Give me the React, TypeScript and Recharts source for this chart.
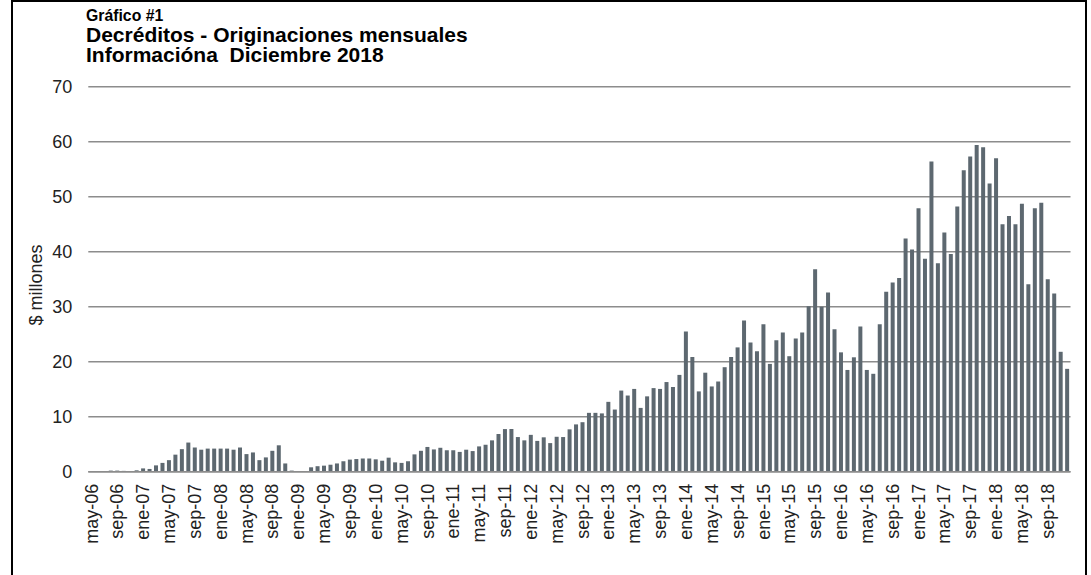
import React from 'react';
import { BarChart, Bar, XAxis, YAxis, CartesianGrid } from 'recharts';

const MONTHS = ['ene', 'feb', 'mar', 'abr', 'may', 'jun', 'jul', 'ago', 'sep', 'oct', 'nov', 'dic'];
const YEARS = ['06', '07', '08', '09', '10', '11', '12', '13', '14', '15', '16', '17', '18'];

// $ millones, one array per year (2006 starts in May)
const V2006 = [0, 0, 0, 0.2, 0.2, 0.15, 0, 0.25];
const V2007 = [0.6, 0.5, 1.15, 1.6, 2.1, 3.1, 4.1, 5.3, 4.4, 4.0, 4.2, 4.2];
const V2008 = [4.2, 4.2, 4.0, 4.4, 3.2, 3.5, 2.1, 2.6, 3.8, 4.8, 1.5, 0.2];
const V2009 = [0, 0, 0.8, 1.0, 1.1, 1.27, 1.5, 1.9, 2.2, 2.3, 2.4, 2.4];
const V2010 = [2.25, 2.0, 2.55, 1.7, 1.6, 1.9, 3.15, 3.8, 4.5, 4.05, 4.35, 3.9];
const V2011 = [3.9, 3.6, 4.0, 3.75, 4.6, 4.9, 5.7, 6.85, 7.75, 7.75, 6.3, 5.7];
const V2012 = [6.7, 5.6, 6.25, 5.2, 6.35, 6.3, 7.7, 8.6, 9.0, 10.7, 10.7, 10.6];
const V2013 = [12.7, 11.3, 14.75, 13.85, 15.05, 11.6, 13.7, 15.2, 15.05, 16.3, 15.4, 17.6];
const V2014 = [25.5, 20.85, 14.6, 18.0, 15.5, 16.4, 19.0, 20.85, 22.6, 27.5, 23.5, 21.9];
const V2015 = [26.8, 19.6, 23.9, 25.3, 21.0, 24.2, 25.3, 30.1, 36.8, 30.0, 32.6, 25.9];
const V2016 = [21.7, 18.5, 20.8, 26.4, 18.5, 17.8, 26.8, 32.7, 34.4, 35.2, 42.4, 40.4];
const V2017 = [47.9, 38.7, 56.4, 37.9, 43.5, 39.6, 48.2, 54.8, 57.3, 59.4, 59.0, 52.4];
const V2018 = [57.0, 45.0, 46.5, 45.0, 48.7, 34.1, 47.9, 48.9, 35.0, 32.4, 21.8, 18.7];

const VALUES = [
  ...V2006, ...V2007, ...V2008, ...V2009, ...V2010, ...V2011, ...V2012,
  ...V2013, ...V2014, ...V2015, ...V2016, ...V2017, ...V2018,
];

const CATEGORIES = YEARS.flatMap((yy, k) =>
  MONTHS.slice(k === 0 ? 4 : 0).map((m) => `${m}-${yy}`)
);

const Y_TICKS = [0, 10, 20, 30, 40, 50, 60, 70];

const data = CATEGORIES.map((month, i) => ({ month, value: VALUES[i] }));

const FONT = '"Liberation Sans", Arial, sans-serif';
const BAR_COLOR = '#5d6870';
const GRID_COLOR = '#8c8c8c';

const XTick = (props: any) => {
  const { x, y, payload } = props;
  return (
    <text
      x={x}
      y={y}
      transform={`rotate(-90 ${x} ${y})`}
      textAnchor="end"
      dominantBaseline="central"
      fontSize={18}
      fill="#222"
      fontFamily={FONT}
    >
      {payload.value}
    </text>
  );
};

export default function App() {
  return (
    <div
      style={{
        position: 'absolute',
        left: 0,
        top: 0,
        width: 1091,
        height: 575,
        background: '#fff',
        overflow: 'hidden',
        fontFamily: FONT,
      }}
    >
      <div
        style={{
          position: 'absolute',
          left: 11,
          top: 0,
          width: 1072,
          height: 600,
          border: '2px solid #000',
          borderBottom: 'none',
        }}
      />
      <BarChart
        width={1091}
        height={575}
        data={data}
        margin={{ top: 86.7, right: 20.5, bottom: 3.3, left: 28.3 }}
        barCategoryGap="17%"
        style={{ position: 'absolute', left: 0, top: 0, fontFamily: FONT }}
      >
        <CartesianGrid vertical={false} stroke={GRID_COLOR} strokeWidth={1.5} />
        <XAxis
          dataKey="month"
          interval={3}
          height={100}
          tick={<XTick />}
          tickLine={false}
          tickSize={0}
          tickMargin={12}
          axisLine={{ stroke: GRID_COLOR, strokeWidth: 1.5 }}
        />
        <YAxis
          domain={[0, 70]}
          ticks={Y_TICKS}
          width={60}
          axisLine={false}
          tickLine={false}
          tickSize={0}
          tickMargin={16}
          tick={{ fontSize: 18, fill: '#222', fontFamily: FONT }}
        />
        <Bar dataKey="value" fill={BAR_COLOR} isAnimationActive={false} />
      </BarChart>
      <svg
        width={1091}
        height={575}
        style={{ position: 'absolute', left: 0, top: 0, pointerEvents: 'none' }}
      >
        <g fontFamily={FONT} fontWeight="bold" fill="#000">
          <text x={86} y={21} fontSize={15.8}>Gráfico #1</text>
          <text x={86} y={42} fontSize={21}>Decréditos - Originaciones mensuales</text>
          <text x={86} y={62} fontSize={21} xmlSpace="preserve">
            {'Informacióna  Diciembre 2018'}
          </text>
        </g>
        <text
          x={36}
          y={285}
          transform="rotate(-90 36 285)"
          textAnchor="middle"
          dominantBaseline="central"
          fontSize={18}
          fill="#222"
          fontFamily={FONT}
        >
          $ millones
        </text>
      </svg>
    </div>
  );
}
